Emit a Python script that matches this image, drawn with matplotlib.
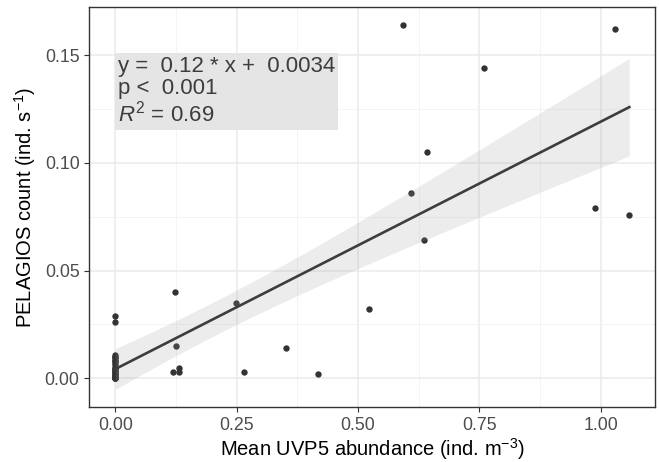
import numpy as np
import matplotlib
matplotlib.use('Agg')
import matplotlib.pyplot as plt
from matplotlib.ticker import MultipleLocator

plt.rcParams['font.family'] = ['Liberation Sans', 'DejaVu Sans']
plt.rcParams['mathtext.fontset'] = 'custom'
plt.rcParams['mathtext.rm'] = 'Liberation Sans'
plt.rcParams['mathtext.it'] = 'Liberation Sans:italic'

# abundance vs count (many stations stacked at x = 0)
uvp5 = [0] * 24 + [
    0.119, 0.131, 0.131, 0.1235, 0.125, 0.2485, 0.264, 0.3515, 0.417,
    0.522, 0.593, 0.610, 0.636, 0.642, 0.759, 0.988, 1.029, 1.059]
pelagios = [0.029, 0.026, 0.011, 0.010, 0.010, 0.009, 0.008, 0.008, 0.007,
            0.006, 0.005, 0.005, 0.004, 0.004, 0.003, 0.003, 0.002, 0.002,
            0.001, 0.001, 0.0, 0.0, 0.0, 0.0,
            0.003, 0.005, 0.0028, 0.040, 0.015, 0.035, 0.003, 0.014, 0.002,
            0.032, 0.164, 0.086, 0.064, 0.105, 0.144, 0.079, 0.162, 0.076]
eq_text = 'y =  0.12 * x +  0.0034\np <  0.001\n$R^2$ = 0.69'

x = np.array(uvp5)
y = np.array(pelagios)
n = len(x)
a, b = np.polyfit(x, y, 1)
xs = np.linspace(x.min(), x.max(), 80)
fit = a * xs + b
resid = y - (a * x + b)
s = np.sqrt((resid ** 2).sum() / (n - 2))
sxx = ((x - x.mean()) ** 2).sum()
se = s * np.sqrt(1 / n + (xs - x.mean()) ** 2 / sxx)
t = 2.02  # t(0.975, df=40)

fig = plt.figure(figsize=(6.59, 4.62), dpi=100)
ax = fig.add_axes([0.1355, 0.119, 0.8585, 0.865])

ax.scatter(x, y, s=21, color='#333333', zorder=3, linewidths=0)
ax.fill_between(xs, fit - t * se, fit + t * se, color='#999999', alpha=0.18,
                linewidth=0, zorder=4)
ax.plot(xs, fit, color='#3d3d3d', lw=1.9, zorder=5)

ax.set_xlim(-0.0538, 1.112)
ax.set_ylim(-0.0133, 0.1721)
ax.xaxis.set_major_locator(MultipleLocator(0.25))
ax.xaxis.set_minor_locator(MultipleLocator(0.125))
ax.yaxis.set_major_locator(MultipleLocator(0.05))
ax.yaxis.set_minor_locator(MultipleLocator(0.025))
ax.xaxis.set_major_formatter(plt.FuncFormatter(lambda v, p: '%.2f' % v))
ax.yaxis.set_major_formatter(plt.FuncFormatter(lambda v, p: '%.2f' % v))
ax.grid(which='major', color='#EBEBEB', lw=1.1, zorder=0)
ax.grid(which='minor', color='#F2F2F2', lw=0.6, zorder=0)
ax.set_axisbelow(True)
ax.tick_params(which='major', length=3.5, color='#333333', labelsize=12.8,
               labelcolor='#4D4D4D', width=0.8)
ax.tick_params(which='minor', length=0)
for sp in ax.spines.values():
    sp.set_color('#333333')
    sp.set_linewidth(1.0)

ax.set_xlabel('Mean UVP5 abundance (ind. m$^{-3}$)', fontsize=14.5, labelpad=2)
ax.set_ylabel('PELAGIOS count (ind. s$^{-1}$)', fontsize=14.5, labelpad=5)

ax.text(0.005, 0.1495, eq_text, fontsize=16, color='#3d3d3d', va='top',
        ha='left', linespacing=1.08, zorder=6,
        bbox=dict(boxstyle='square,pad=0.14', facecolor='#E5E5E5',
                  edgecolor='none'))

fig.savefig('out.png', dpi=100)
